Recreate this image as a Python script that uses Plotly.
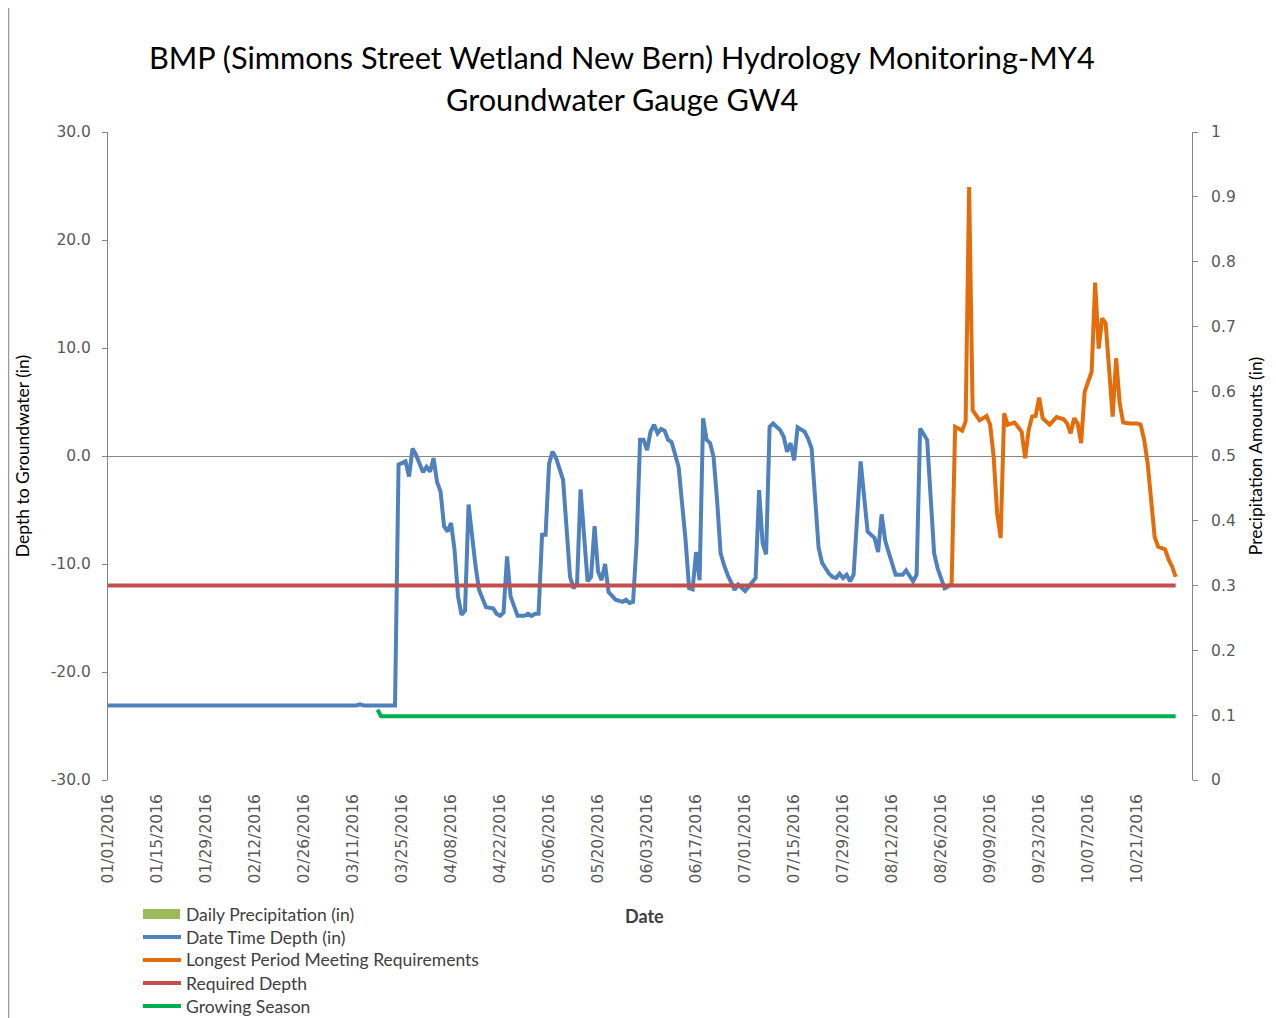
import plotly.graph_objects as go

# ---------------- data ----------------
blue_dates = [
    "2016-01-01", "2016-03-12", "2016-03-13", "2016-03-14", "2016-03-23", "2016-03-24",
    "2016-03-26", "2016-03-27", "2016-03-28", "2016-03-29", "2016-03-31", "2016-04-01",
    "2016-04-02", "2016-04-03", "2016-04-04", "2016-04-05", "2016-04-06", "2016-04-07",
    "2016-04-08", "2016-04-09", "2016-04-10", "2016-04-11", "2016-04-12", "2016-04-13",
    "2016-04-15", "2016-04-16", "2016-04-18", "2016-04-20", "2016-04-21", "2016-04-22",
    "2016-04-23", "2016-04-24", "2016-04-25", "2016-04-27", "2016-04-29", "2016-04-30",
    "2016-05-01", "2016-05-02", "2016-05-03", "2016-05-04", "2016-05-05", "2016-05-06",
    "2016-05-07", "2016-05-08", "2016-05-10", "2016-05-11", "2016-05-12", "2016-05-13",
    "2016-05-14", "2016-05-15", "2016-05-16", "2016-05-17", "2016-05-18", "2016-05-19",
    "2016-05-20", "2016-05-21", "2016-05-22", "2016-05-23", "2016-05-25", "2016-05-27",
    "2016-05-28", "2016-05-29", "2016-05-30", "2016-05-31", "2016-06-01", "2016-06-02",
    "2016-06-03", "2016-06-04", "2016-06-05", "2016-06-06", "2016-06-07", "2016-06-08",
    "2016-06-09", "2016-06-10", "2016-06-12", "2016-06-14", "2016-06-15", "2016-06-16",
    "2016-06-17", "2016-06-18", "2016-06-19", "2016-06-20", "2016-06-21", "2016-06-22",
    "2016-06-23", "2016-06-24", "2016-06-25", "2016-06-26", "2016-06-28", "2016-06-29",
    "2016-07-01", "2016-07-02", "2016-07-04", "2016-07-05", "2016-07-06", "2016-07-07",
    "2016-07-08", "2016-07-09", "2016-07-10", "2016-07-11", "2016-07-12", "2016-07-13",
    "2016-07-14", "2016-07-15", "2016-07-16", "2016-07-18", "2016-07-19", "2016-07-20",
    "2016-07-22", "2016-07-23", "2016-07-25", "2016-07-26", "2016-07-27", "2016-07-28",
    "2016-07-29", "2016-07-30", "2016-07-31", "2016-08-01", "2016-08-03", "2016-08-05",
    "2016-08-07", "2016-08-08", "2016-08-09", "2016-08-10", "2016-08-11", "2016-08-13",
    "2016-08-15", "2016-08-16", "2016-08-18", "2016-08-19", "2016-08-20", "2016-08-22",
    "2016-08-24", "2016-08-25", "2016-08-27", "2016-08-28",
]
blue_depth = [
    -23.1, -23.1, -23.0, -23.1, -23.1, -0.8,
    -0.5, -1.9, 0.7, 0.1, -1.5, -1.0,
    -1.45, -0.2, -2.4, -3.3, -6.5, -7.0,
    -6.2, -8.7, -13.0, -14.7, -14.3, -4.5,
    -10.2, -12.4, -14.0, -14.1, -14.6, -14.8,
    -14.5, -9.3, -13.0, -14.8, -14.8, -14.6,
    -14.8, -14.6, -14.6, -7.3, -7.3, -0.7,
    0.4, -0.2, -2.2, -6.9, -11.2, -12.25,
    -11.8, -3.1, -7.8, -11.6, -11.2, -6.5,
    -10.7, -11.5, -10.0, -12.6, -13.3, -13.5,
    -13.3, -13.6, -13.5, -8.1, 1.5, 1.5,
    0.55, 2.25, 2.9, 2.1, 2.5, 2.35,
    1.5, 1.3, -1.0, -7.8, -12.25, -12.35,
    -8.9, -11.5, 3.5, 1.5, 1.2, -0.1,
    -4.1, -9.0, -10.1, -11.0, -12.4, -11.9,
    -12.5, -12.1, -11.3, -3.15, -8.1, -9.1,
    2.7, 3.0, 2.75, 2.4, 1.8, 0.4,
    1.2, -0.4, 2.65, 2.25, 1.6, 0.7,
    -8.5, -9.9, -10.9, -11.2, -11.3, -10.9,
    -11.3, -11.0, -11.6, -11.0, -0.5, -7.0,
    -7.6, -8.9, -5.4, -7.8, -8.9, -11.0,
    -11.0, -10.6, -11.6, -11.0, 2.55, 1.5,
    -9.0, -10.4, -12.25, -12.1,
]

orange_dates = [
    "2016-08-28", "2016-08-29", "2016-08-30", "2016-08-31", "2016-09-01", "2016-09-02",
    "2016-09-03", "2016-09-04", "2016-09-06", "2016-09-08", "2016-09-09", "2016-09-10",
    "2016-09-11", "2016-09-12", "2016-09-13", "2016-09-14", "2016-09-16", "2016-09-18",
    "2016-09-19", "2016-09-20", "2016-09-21", "2016-09-22", "2016-09-23", "2016-09-24",
    "2016-09-26", "2016-09-28", "2016-09-30", "2016-10-01", "2016-10-02", "2016-10-03",
    "2016-10-04", "2016-10-05", "2016-10-06", "2016-10-08", "2016-10-09", "2016-10-10",
    "2016-10-11", "2016-10-12", "2016-10-13", "2016-10-14", "2016-10-15", "2016-10-16",
    "2016-10-17", "2016-10-19", "2016-10-21", "2016-10-22", "2016-10-23", "2016-10-24",
    "2016-10-26", "2016-10-27", "2016-10-29", "2016-10-30", "2016-10-31", "2016-11-01",
]
orange_depth = [
    -12.1, -11.8, 2.7, 2.55, 2.35, 3.2,
    24.9, 4.25, 3.3, 3.7, 2.9, -0.05,
    -5.3, -7.6, 3.95, 2.9, 3.1, 2.25,
    -0.2, 2.4, 3.65, 3.7, 5.4, 3.5,
    2.9, 3.6, 3.4, 3.0, 2.1, 3.5,
    3.0, 1.2, 5.95, 7.8, 16.05, 9.95,
    12.75, 12.3, 8.0, 3.65, 9.05, 4.9,
    3.1, 3.0, 3.0, 2.9, 1.5, -0.7,
    -7.5, -8.4, -8.65, -9.6, -10.25, -11.2,
]

required_dates = ["2016-01-01", "2016-11-01"]
required_depth = [-12.0, -12.0]

growing_dates = ["2016-03-18", "2016-03-19", "2016-11-01"]
growing_level = [-23.5, -24.1, -24.1]

precip_dates = ["2016-01-01", "2016-04-01", "2016-07-01", "2016-10-01"]
precip_in = [0, 0, 0, 0]

x_tick_dates = [
    "2016-01-01", "2016-01-15", "2016-01-29", "2016-02-12", "2016-02-26", "2016-03-11",
    "2016-03-25", "2016-04-08", "2016-04-22", "2016-05-06", "2016-05-20", "2016-06-03",
    "2016-06-17", "2016-07-01", "2016-07-15", "2016-07-29", "2016-08-12", "2016-08-26",
    "2016-09-09", "2016-09-23", "2016-10-07", "2016-10-21",
]
y_tick_vals = [-30, -20, -10, 0, 10, 20, 30]
y_tick_text = ["-30.0", "-20.0", "-10.0", "0.0", "10.0", "20.0", "30.0"]
y2_tick_vals = [0, 0.1, 0.2, 0.3, 0.4, 0.5, 0.6, 0.7, 0.8, 0.9, 1]
y2_tick_text = ["0", "0.1", "0.2", "0.3", "0.4", "0.5", "0.6", "0.7", "0.8", "0.9", "1"]

legend_names = [
    "Daily Precipitation (in)",
    "Date Time Depth (in)",
    "Longest Period Meeting Requirements",
    "Required Depth",
    "Growing Season",
]
legend_colors = ["#9BBB59", "#4F81BD", "#E46C0A", "#C0504D", "#00B050"]

# ---------------- figure ----------------
# the page body has an 8px margin, so the figure is placed 8px in from the window corner
OFF = 8
W, H = 1276 - OFF, 1018 - OFF
L, R, T, B = 108 - OFF, 84, 132 - OFF, 238
PW, PH = W - L - R, H - T - B


def px(x):  # window pixel -> paper x
    return (x - OFF - L) / PW


def py(y):  # window pixel -> paper y
    return (H - B - (y - OFF)) / PH


LW = 4
fig = go.Figure()
fig.add_trace(go.Bar(x=precip_dates, y=precip_in, yaxis="y2", name=legend_names[0],
                     marker=dict(color=legend_colors[0], line=dict(width=0)), showlegend=False))
fig.add_trace(go.Scatter(x=blue_dates, y=blue_depth, mode="lines", name=legend_names[1],
                         line=dict(color=legend_colors[1], width=LW), showlegend=False))
fig.add_trace(go.Scatter(x=orange_dates, y=orange_depth, mode="lines", name=legend_names[2],
                         line=dict(color=legend_colors[2], width=LW), showlegend=False))
fig.add_trace(go.Scatter(x=required_dates, y=required_depth, mode="lines", name=legend_names[3],
                         line=dict(color=legend_colors[3], width=LW), showlegend=False))
fig.add_trace(go.Scatter(x=growing_dates, y=growing_level, mode="lines", name=legend_names[4],
                         line=dict(color=legend_colors[4], width=LW), showlegend=False))

axis_grey = "#868686"
tick_font = dict(family="DejaVu Sans", size=15.5, color="#595959")
title_font = dict(family="Lato", size=17.5, color="#000000")

fig.update_layout(
    width=W, height=H,
    margin=dict(l=L, r=R, t=T, b=B, pad=0),
    paper_bgcolor="white", plot_bgcolor="white",
    showlegend=False,
    xaxis=dict(
        type="date", range=["2016-01-01", "2016-11-05 16:00"],
        tickmode="array", tickvals=x_tick_dates, tickformat="%m/%d/%Y",
        tickangle=-90, tickfont=tick_font, showgrid=False, showline=False,
        zeroline=False, ticks="", ticklabelstandoff=10,
    ),
    yaxis=dict(
        range=[-30, 30], tickmode="array", tickvals=y_tick_vals, ticktext=y_tick_text,
        tickfont=tick_font, showgrid=False, showline=True, linecolor=axis_grey, linewidth=1,
        ticks="outside", ticklen=5, tickcolor=axis_grey, zeroline=True,
        zerolinecolor=axis_grey, zerolinewidth=1, ticklabelstandoff=8,
        title=dict(text="Depth to Groundwater (in)", font=title_font, standoff=16),
    ),
    yaxis2=dict(
        overlaying="y", side="right", range=[0, 1], tickmode="array",
        tickvals=y2_tick_vals, ticktext=y2_tick_text, tickfont=tick_font,
        showgrid=False, showline=True, linecolor=axis_grey, linewidth=1,
        ticks="outside", ticklen=5, tickcolor=axis_grey, zeroline=False,
        ticklabelstandoff=10,
        title=dict(text="Precipitation Amounts (in)", font=title_font, standoff=14),
    ),
)

big_font = dict(family="Lato", size=30.7, color="#000000")
annotations = [
    dict(text="BMP (Simmons Street Wetland New Bern) Hydrology Monitoring-MY4",
         x=px(622), y=py(57), xref="paper", yref="paper", showarrow=False,
         xanchor="center", yanchor="middle", font=big_font),
    dict(text="Groundwater Gauge GW4",
         x=px(622), y=py(99), xref="paper", yref="paper", showarrow=False,
         xanchor="center", yanchor="middle", font=big_font),
    dict(text="<b>Date</b>", x=px(644), y=py(916), xref="paper", yref="paper",
         showarrow=False, xanchor="center", yanchor="middle",
         font=dict(family="Lato", size=18, color="#404040")),
]
shapes = [
    dict(type="line", xref="paper", yref="paper", x0=px(OFF + 0.5), x1=px(OFF + 0.5),
         y0=py(OFF), y1=py(1018), line=dict(color="#9a9a9a", width=1.5)),
]
for i, (name, col) in enumerate(zip(legend_names, legend_colors)):
    yc = 914 + 23 * i
    if i == 0:
        shapes.append(dict(type="rect", xref="paper", yref="paper", x0=px(143), x1=px(180),
                           y0=py(yc - 5), y1=py(yc + 5), fillcolor=col, line=dict(width=0)))
    else:
        shapes.append(dict(type="line", xref="paper", yref="paper", x0=px(143), x1=px(181),
                           y0=py(yc), y1=py(yc), line=dict(color=col, width=LW)))
    annotations.append(dict(text=name, x=px(184), y=py(yc), xref="paper", yref="paper",
                            showarrow=False, xanchor="left", yanchor="middle",
                            font=dict(family="Lato", size=17.5, color="#404040")))

fig.update_layout(annotations=annotations, shapes=shapes)
fig.write_html("out.html")
